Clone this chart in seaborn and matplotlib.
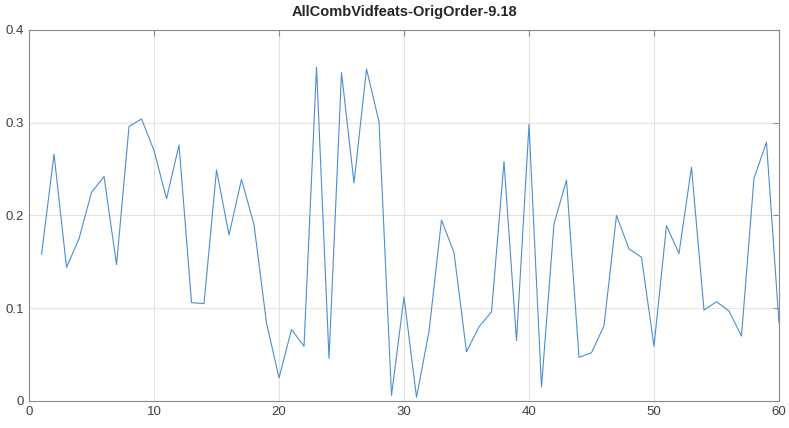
import numpy as np
import pandas as pd
import seaborn as sns
import matplotlib
matplotlib.use("Agg")
import matplotlib.pyplot as plt
from matplotlib.ticker import FuncFormatter

# values
idx = list(range(1, 61))
vals = [0.158, 0.266, 0.144, 0.175, 0.225, 0.242, 0.147, 0.296, 0.304, 0.270,
        0.218, 0.276, 0.106, 0.105, 0.249, 0.179, 0.239, 0.190, 0.084, 0.025,
        0.077, 0.059, 0.360, 0.046, 0.354, 0.235, 0.358, 0.301, 0.006, 0.112,
        0.004, 0.075, 0.195, 0.160, 0.053, 0.080, 0.096, 0.258, 0.065, 0.298,
        0.015, 0.191, 0.238, 0.047, 0.052, 0.081, 0.200, 0.164, 0.155, 0.059,
        0.189, 0.159, 0.252, 0.098, 0.107, 0.097, 0.070, 0.240, 0.279, 0.084]

df = pd.DataFrame({"idx": idx, "val": vals})

sns.set_style("white")
plt.rcParams["font.family"] = ["Liberation Sans", "DejaVu Sans"]

fig = plt.figure(figsize=(7.89, 4.28), dpi=100)
ax = fig.add_axes([0.0368, 0.0631, 0.9505, 0.8669])

sns.lineplot(data=df, x="idx", y="val", ax=ax, color="#4a8fd0", linewidth=0.8)

ax.set_xlim(0, 60)
ax.set_ylim(0, 0.4)
ax.set_xticks(range(0, 61, 10))
ax.set_yticks([0, 0.1, 0.2, 0.3, 0.4])
ax.yaxis.set_major_formatter(FuncFormatter(lambda v, p: "%g" % v))
ax.grid(True, color="#e3e3e3", linewidth=0.8)
ax.set_axisbelow(True)
ax.set_xlabel("")
ax.set_ylabel("")

for s in ax.spines.values():
    s.set_color("#8a8a8a")
    s.set_linewidth(0.8)
ax.tick_params(direction="in", top=True, right=True, length=4,
               color="#8a8a8a", labelcolor="#404040", labelsize=9.5)

ax.set_title("AllCombVidfeats-OrigOrder-9.18", fontsize=10.5, fontweight="bold", pad=10)

fig.savefig("out.png", dpi=100)
